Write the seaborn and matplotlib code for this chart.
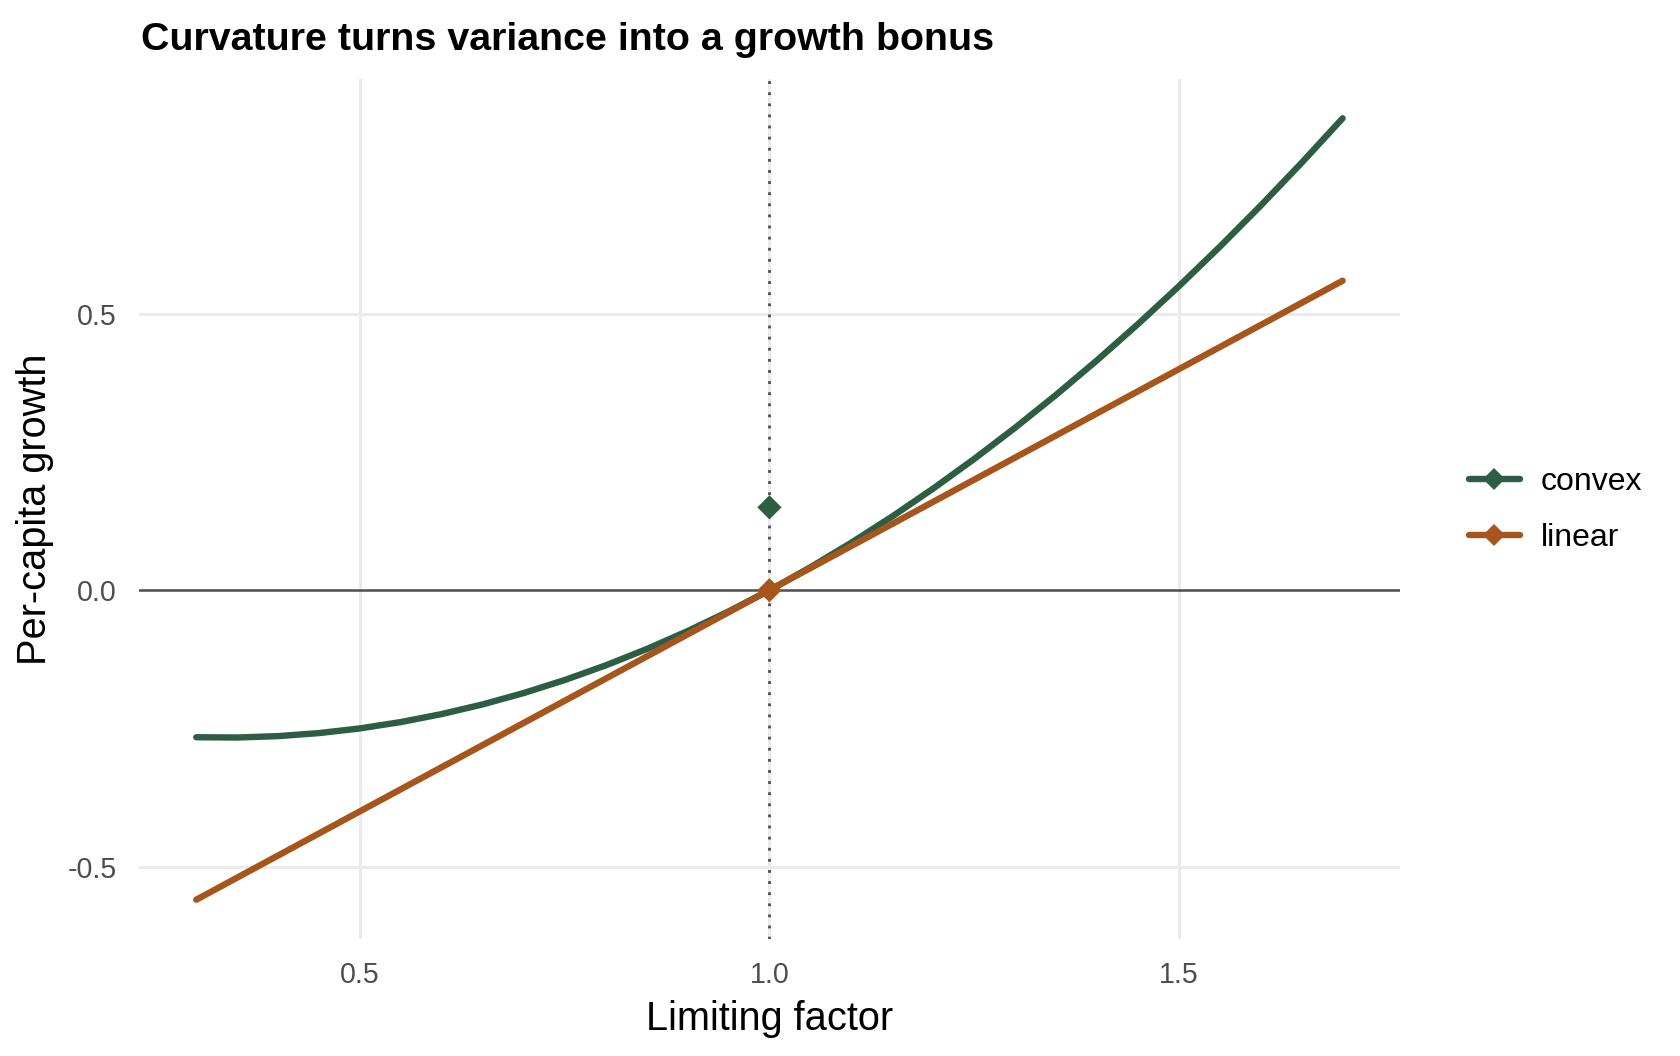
import numpy as np
import pandas as pd
import matplotlib
matplotlib.use("Agg")
import matplotlib.pyplot as plt
from matplotlib.lines import Line2D
import seaborn as sns

# --- data ---
limiting = [0.30, 0.35, 0.40, 0.45, 0.50, 0.55, 0.60, 0.65, 0.70, 0.75,
            0.80, 0.85, 0.90, 0.95, 1.00, 1.05, 1.10, 1.15, 1.20, 1.25,
            1.30, 1.35, 1.40, 1.45, 1.50, 1.55, 1.60, 1.65, 1.70]
convex = [-0.266, -0.2665, -0.264, -0.2585, -0.250, -0.2385, -0.224, -0.2065,
          -0.186, -0.1625, -0.136, -0.1065, -0.074, -0.0385, 0.000, 0.0415,
          0.086, 0.1335, 0.184, 0.2375, 0.294, 0.3535, 0.416, 0.4815,
          0.550, 0.6215, 0.696, 0.7735, 0.854]
linear = [-0.56, -0.52, -0.48, -0.44, -0.40, -0.36, -0.32, -0.28, -0.24, -0.20,
          -0.16, -0.12, -0.08, -0.04, 0.00, 0.04, 0.08, 0.12, 0.16, 0.20,
          0.24, 0.28, 0.32, 0.36, 0.40, 0.44, 0.48, 0.52, 0.56]

# mean growth at the mean limiting factor
mean_x = [1.0, 1.0]
mean_y = [0.15, 0.0]
mean_model = ["convex", "linear"]

models = ["convex", "linear"]
COLORS = {"convex": "#2d5e44", "linear": "#a6551c"}

df = pd.DataFrame({
    "x": limiting * 2,
    "y": convex + linear,
    "model": ["convex"] * len(limiting) + ["linear"] * len(limiting),
})
pts = pd.DataFrame({"x": mean_x, "y": mean_y, "model": mean_model})

sns.set_theme(style="white")
plt.rcParams["font.family"] = ["Liberation Sans", "DejaVu Sans"]
plt.rcParams["text.color"] = "black"

fig = plt.figure(figsize=(8.4, 5.28), dpi=200)
ax = fig.add_axes([0.0827, 0.111, 0.7506, 0.814])

# grid
for gx in [0.5, 1.0, 1.5]:
    ax.axvline(gx, color="#ebebeb", lw=1.1, zorder=0)
for gy in [-0.5, 0.5]:
    ax.axhline(gy, color="#ebebeb", lw=1.1, zorder=0)

ax.axhline(0, color="#4d4d4d", lw=0.9, zorder=1)
ax.axvline(1.0, color="#4d4d4d", lw=1.0, ls=(0, (1, 3)), zorder=1)

sns.lineplot(data=df, x="x", y="y", hue="model", palette=COLORS,
             hue_order=models, lw=2.3, ax=ax, legend=False, zorder=3)
sns.scatterplot(data=pts, x="x", y="y", hue="model", palette=COLORS,
                hue_order=models, marker="D", s=38, linewidth=0,
                ax=ax, legend=False, zorder=4)

ax.set_xlim(0.23, 1.77)
ax.set_ylim(-0.6307, 0.9247)
ax.set_xticks([0.5, 1.0, 1.5])
ax.set_xticklabels(["0.5", "1.0", "1.5"])
ax.set_yticks([-0.5, 0.0, 0.5])
ax.set_yticklabels(["-0.5", "0.0", "0.5"])
ax.tick_params(axis="both", length=0, labelsize=10.3, labelcolor="#4d4d4d", pad=8)
for s in ax.spines.values():
    s.set_visible(False)

ax.set_xlabel("Limiting factor", fontsize=14.3, color="black", labelpad=4)
ax.set_ylabel("Per-capita growth", fontsize=14.3, color="black", labelpad=5)
fig.text(0.084, 0.962, "Curvature turns variance into a growth bonus",
         fontsize=14.2, fontweight="bold", ha="left", va="center", color="black")

handles = [Line2D([0], [0], color=COLORS[m], lw=2.3, marker="D", markersize=5.5,
                  markeredgewidth=0) for m in models]
fig.legend(handles, models, loc="center left", bbox_to_anchor=(0.857, 0.517),
           frameon=False, fontsize=11.5, handlelength=1.6, handletextpad=0.65,
           labelspacing=0.8)

fig.savefig("out.png", dpi=200)
